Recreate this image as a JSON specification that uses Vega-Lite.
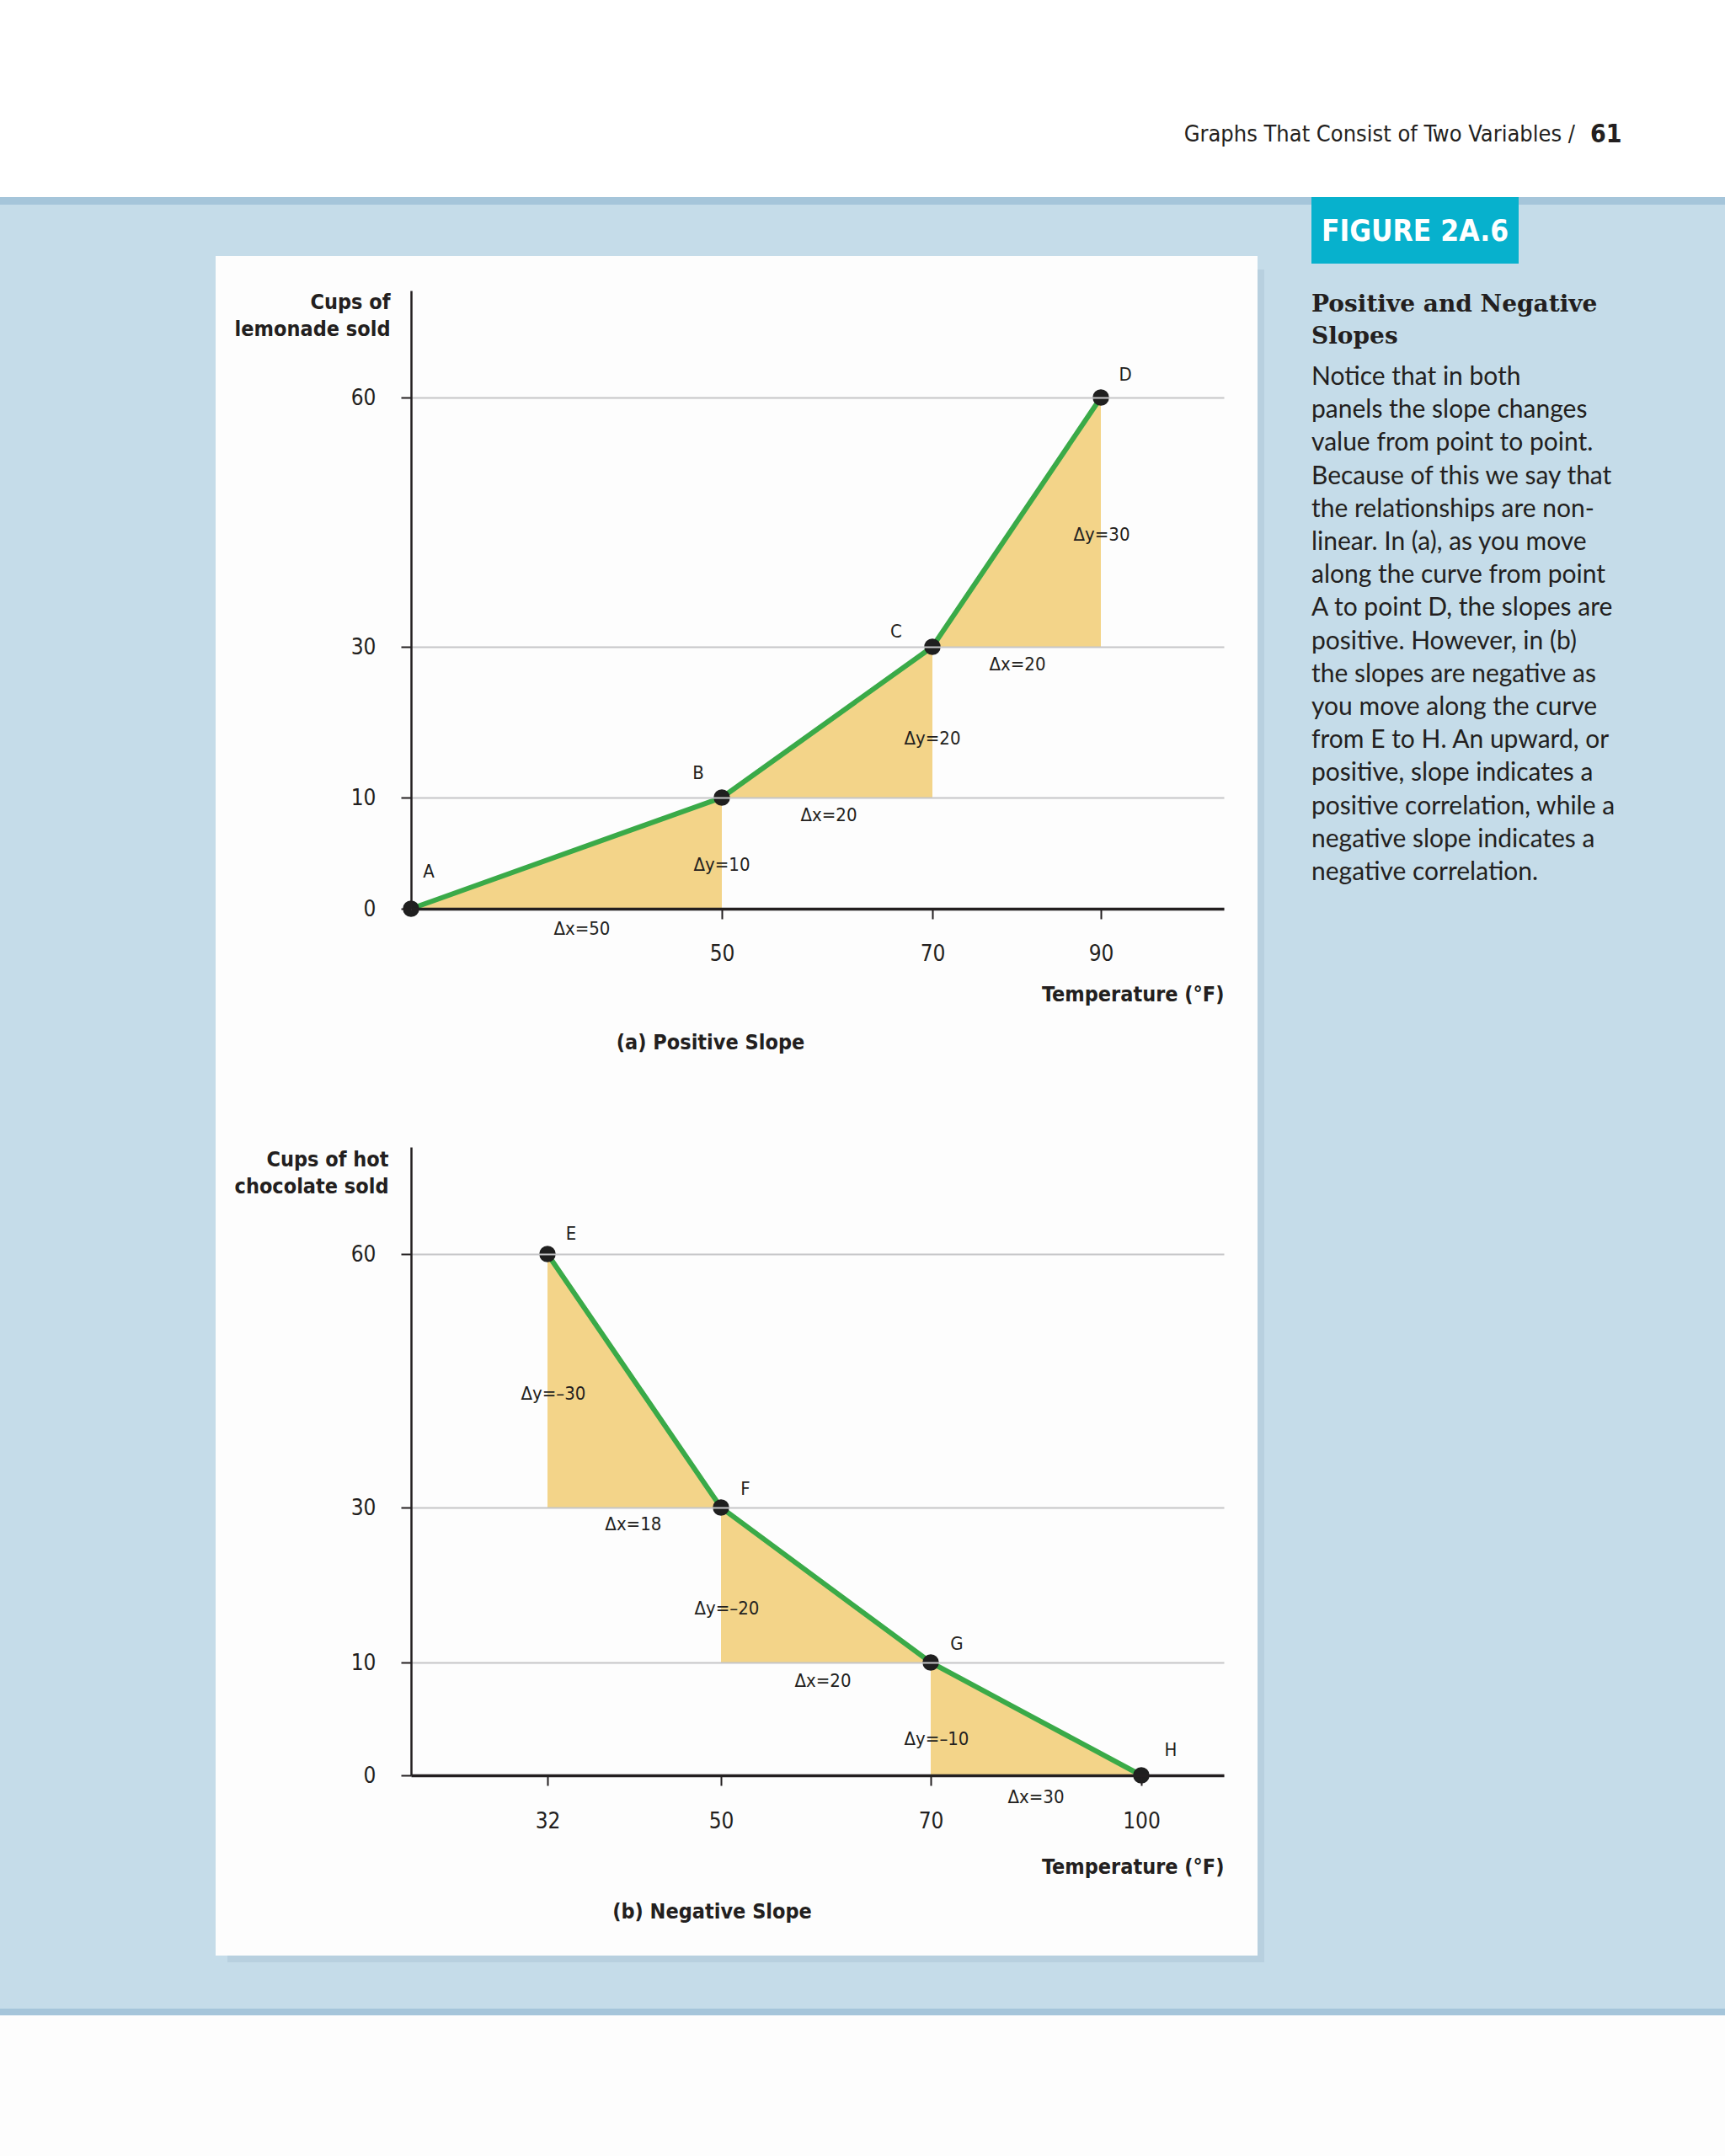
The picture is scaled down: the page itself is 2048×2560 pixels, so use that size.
{
  "$schema": "https://vega.github.io/schema/vega-lite/v6.json",
  "background": "#c5dce9",
  "padding": 0,
  "spacing": 0,
  "config": {
    "view": {"stroke": null},
    "concat": {"spacing": 0},
    "font": "Liberation Sans Narrow, DejaVu Sans Condensed, sans-serif",
    "axis": {
      "domainColor": "#231f20",
      "tickColor": "#231f20",
      "tickWidth": 2,
      "tickSize": 12,
      "labelColor": "#231f20",
      "labelFont": "Liberation Sans Narrow, DejaVu Sans Condensed, sans-serif",
      "labelFontSize": 26,
      "labelOverlap": false,
      "labelFlush": false,
      "titleColor": "#231f20",
      "titleFont": "Liberation Sans Narrow, DejaVu Sans Condensed, sans-serif",
      "titleFontSize": 25,
      "titleFontWeight": "bold",
      "gridColor": "#c6c6c8",
      "gridWidth": 2
    }
  },
  "datasets": {
    "curveA": [
      {"label": "A", "temp": 0, "cups": 0},
      {"label": "B", "temp": 50, "cups": 10},
      {"label": "C", "temp": 70, "cups": 30},
      {"label": "D", "temp": 90, "cups": 60}
    ],
    "triA": [
      {"seg": "AB", "temp": 0, "cups": 0, "base": 0},
      {"seg": "AB", "temp": 50, "cups": 10, "base": 0},
      {"seg": "BC", "temp": 50, "cups": 10, "base": 10},
      {"seg": "BC", "temp": 70, "cups": 30, "base": 10},
      {"seg": "CD", "temp": 70, "cups": 30, "base": 30},
      {"seg": "CD", "temp": 90, "cups": 60, "base": 30}
    ],
    "annA": [
      {"text": "A", "temp": 2.85, "cups": 3.33},
      {"text": "B", "temp": 46.2, "cups": 13.24},
      {"text": "C", "temp": 66.56, "cups": 31.82},
      {"text": "D", "temp": 92.9, "cups": 62.74},
      {"text": "Δx=50", "temp": 27.5, "cups": -1.82},
      {"text": "Δy=10", "temp": 50, "cups": 3.94},
      {"text": "Δx=20", "temp": 60.16, "cups": 8.41},
      {"text": "Δy=20", "temp": 70, "cups": 17.82},
      {"text": "Δx=20", "temp": 80.1, "cups": 27.65},
      {"text": "Δy=30", "temp": 90.1, "cups": 43.5}
    ],
    "curveB": [
      {"label": "E", "temp": 32, "cups": 60},
      {"label": "F", "temp": 50, "cups": 30},
      {"label": "G", "temp": 70, "cups": 10},
      {"label": "H", "temp": 100, "cups": 0}
    ],
    "triB": [
      {"seg": "EF", "temp": 32, "cups": 60, "base": 30},
      {"seg": "EF", "temp": 50, "cups": 30, "base": 30},
      {"seg": "FG", "temp": 50, "cups": 30, "base": 10},
      {"seg": "FG", "temp": 70, "cups": 10, "base": 10},
      {"seg": "GH", "temp": 70, "cups": 10, "base": 0},
      {"seg": "GH", "temp": 100, "cups": 0, "base": 0}
    ],
    "annB": [
      {"text": "E", "temp": 34.45, "cups": 62.39},
      {"text": "F", "temp": 52.33, "cups": 32.19},
      {"text": "G", "temp": 73.72, "cups": 12.39},
      {"text": "H", "temp": 104.2, "cups": 2.24},
      {"text": "Δy=–30", "temp": 32.6, "cups": 43.46},
      {"text": "Δx=18", "temp": 40.9, "cups": 27.83},
      {"text": "Δy=–20", "temp": 50.56, "cups": 16.96},
      {"text": "Δx=20", "temp": 59.72, "cups": 8.36},
      {"text": "Δy=–10", "temp": 70.84, "cups": 3.21},
      {"text": "Δx=30", "temp": 85.0, "cups": -1.94}
    ]
  },
  "vconcat": [
    {
      "spacing": 0,
      "hconcat": [
        {
          "width": 1876, "height": 234,
          "view": {"fill": "#ffffff", "stroke": null},
          "data": {"values": []},
          "mark": "point",
          "title": {"text": "Graphs That Consist of Two Variables   /", "orient": "bottom", "anchor": "end", "frame": "group", "offset": -74, "dx": -6, "baseline": "middle", "font": "Liberation Sans Narrow, DejaVu Sans Condensed, sans-serif", "fontSize": 27, "fontWeight": "normal", "color": "#231f20"}
        },
        {
          "width": 172, "height": 234,
          "view": {"fill": "#ffffff", "stroke": null},
          "data": {"values": []},
          "mark": "point",
          "title": {"text": "61", "orient": "bottom", "anchor": "start", "frame": "group", "offset": -74, "dx": 12, "baseline": "middle", "font": "Liberation Sans Narrow, DejaVu Sans Condensed, sans-serif", "fontSize": 30, "fontWeight": "bold", "color": "#231f20"}
        }
      ]
    },
    {
      "spacing": 0,
      "hconcat": [
        {"width": 1557, "height": 9, "view": {"fill": "#a5c5da", "stroke": null}, "data": {"values": []}, "mark": "point"},
        {"width": 246, "height": 9, "view": {"fill": "#07b1cd", "stroke": null}, "data": {"values": []}, "mark": "point"},
        {"width": 245, "height": 9, "view": {"fill": "#a5c5da", "stroke": null}, "data": {"values": []}, "mark": "point"}
      ]
    },
    {
      "spacing": 0,
      "hconcat": [
        {"width": 256, "height": 2142, "data": {"values": []}, "mark": "point"},
        {
          "spacing": 0,
          "vconcat": [
            {"width": 1237, "height": 61, "data": {"values": []}, "mark": "point"},
            {
              "width": 1237, "height": 996,
              "view": {"fill": "#fdfdfd", "stroke": null},
              "title": {"text": "(a) Positive Slope", "orient": "bottom", "anchor": "middle", "frame": "group", "offset": -62, "dx": -31, "baseline": "middle", "font": "Liberation Sans Narrow, DejaVu Sans Condensed, sans-serif", "fontSize": 25, "fontWeight": "bold", "color": "#231f20"},
              "encoding": {
                "x": {
                  "field": "temp", "type": "quantitative",
                  "scale": {"domain": [0, 50, 70, 90, 104.6], "range": [232, 601, 851, 1051, 1197], "nice": false, "zero": false},
                  "axis": {"values": [50, 70, 90], "orient": "bottom", "offset": -221, "grid": false, "zindex": 2, "domainWidth": 3.5, "labelPadding": 28, "title": "Temperature (°F)", "titleX": 1197, "titleY": 101, "titleAlign": "right", "titleBaseline": "middle", "titleAngle": 0}
                },
                "y": {
                  "field": "cups", "type": "quantitative",
                  "scale": {"domain": [0, 10, 30, 60, 72.9], "range": [775, 643, 464, 168, 41], "nice": false, "zero": false},
                  "axis": {"values": [0, 10, 30, 60], "orient": "left", "offset": -232, "grid": true, "zindex": 2, "domainWidth": 2.5, "labelPadding": 30, "title": ["Cups of", "lemonade sold"], "titleAngle": 0, "titleX": -25, "titleY": 42, "titleAlign": "right", "titleBaseline": "top", "titleLineHeight": 32}
                }
              },
              "layer": [
                {"data": {"name": "triA"}, "mark": {"type": "area", "color": "#f3d489", "opacity": 1}, "encoding": {"y2": {"field": "base"}, "detail": {"field": "seg"}}},
                {"data": {"name": "curveA"}, "mark": {"type": "line", "color": "#3aaa48", "strokeWidth": 6}},
                {"data": {"name": "curveA"}, "mark": {"type": "circle", "size": 380, "color": "#1f1f1f", "opacity": 1}},
                {"data": {"name": "annA"}, "mark": {"type": "text", "fontSize": 22, "align": "center", "baseline": "middle", "color": "#231f20"}, "encoding": {"text": {"field": "text"}}}
              ]
            },
            {
              "width": 1237, "height": 1022,
              "view": {"fill": "#fdfdfd", "stroke": null},
              "title": {"text": "(b) Negative Slope", "orient": "bottom", "anchor": "middle", "frame": "group", "offset": -52, "dx": -29, "baseline": "middle", "font": "Liberation Sans Narrow, DejaVu Sans Condensed, sans-serif", "fontSize": 25, "fontWeight": "bold", "color": "#231f20"},
              "encoding": {
                "x": {
                  "field": "temp", "type": "quantitative",
                  "scale": {"domain": [17.8, 32, 50, 70, 100, 111.8], "range": [232, 394, 600, 849, 1099, 1197], "nice": false, "zero": false},
                  "axis": {"values": [32, 50, 70, 100], "orient": "bottom", "offset": -214, "grid": false, "zindex": 2, "domainWidth": 3.5, "labelPadding": 29, "title": "Temperature (°F)", "titleX": 1197, "titleY": 108, "titleAlign": "right", "titleBaseline": "middle", "titleAngle": 0}
                },
                "y": {
                  "field": "cups", "type": "quantitative",
                  "scale": {"domain": [0, 10, 30, 60, 72.7], "range": [808, 674, 490, 189, 62], "nice": false, "zero": false},
                  "axis": {"values": [0, 10, 30, 60], "orient": "left", "offset": -232, "grid": true, "zindex": 2, "domainWidth": 2.5, "labelPadding": 30, "title": ["Cups of hot", "chocolate sold"], "titleAngle": 0, "titleX": -27, "titleY": 64, "titleAlign": "right", "titleBaseline": "top", "titleLineHeight": 32}
                }
              },
              "layer": [
                {"data": {"name": "triB"}, "mark": {"type": "area", "color": "#f3d489", "opacity": 1}, "encoding": {"y2": {"field": "base"}, "detail": {"field": "seg"}}},
                {"data": {"name": "curveB"}, "mark": {"type": "line", "color": "#3aaa48", "strokeWidth": 6}},
                {"data": {"name": "curveB"}, "mark": {"type": "circle", "size": 380, "color": "#1f1f1f", "opacity": 1}},
                {"data": {"name": "annB"}, "mark": {"type": "text", "fontSize": 22, "align": "center", "baseline": "middle", "color": "#231f20"}, "encoding": {"text": {"field": "text"}}}
              ]
            },
            {
              "spacing": 0,
              "vconcat": [
                {
                  "spacing": 0,
                  "hconcat": [
                    {"width": 14, "height": 8, "data": {"values": []}, "mark": "point"},
                    {"width": 1223, "height": 8, "view": {"fill": "#b8d0df", "stroke": null}, "data": {"values": []}, "mark": "point"}
                  ]
                },
                {"width": 1237, "height": 55, "data": {"values": []}, "mark": "point"}
              ]
            }
          ]
        },
        {
          "spacing": 0,
          "vconcat": [
            {"width": 64, "height": 77, "data": {"values": []}, "mark": "point"},
            {
              "spacing": 0,
              "hconcat": [
                {"width": 8, "height": 2010, "view": {"fill": "#b8d0df", "stroke": null}, "data": {"values": []}, "mark": "point"},
                {"width": 56, "height": 2010, "data": {"values": []}, "mark": "point"}
              ]
            },
            {"width": 64, "height": 55, "data": {"values": []}, "mark": "point"}
          ]
        },
        {
          "spacing": 0,
          "vconcat": [
            {
              "width": 246, "height": 70,
              "view": {"fill": "#07b1cd", "stroke": null},
              "data": {"values": []},
              "mark": "point",
              "title": {"text": "FIGURE 2A.6", "orient": "bottom", "anchor": "middle", "frame": "group", "offset": -38, "baseline": "middle", "font": "Liberation Sans Narrow, DejaVu Sans Condensed, sans-serif", "fontSize": 35, "fontWeight": "bold", "color": "#ffffff"}
            },
            {
              "width": 491, "height": 20,
              "data": {"values": []},
              "mark": "point",
              "title": {
                "text": ["Positive and Negative", "Slopes"],
                "subtitle": [
                  "Notice that in both",
                  "panels the slope changes",
                  "value from point to point.",
                  "Because of this we say that",
                  "the relationships are non-",
                  "linear. In (a), as you move",
                  "along the curve from point",
                  "A to point D, the slopes are",
                  "positive. However, in (b)",
                  "the slopes are negative as",
                  "you move along the curve",
                  "from E to H. An upward, or",
                  "positive, slope indicates a",
                  "positive correlation, while a",
                  "negative slope indicates a",
                  "negative correlation."
                ],
                "orient": "bottom", "anchor": "start", "frame": "group", "offset": 15, "baseline": "top",
                "font": "DejaVu Serif", "fontSize": 28, "fontWeight": "bold", "color": "#231f20", "lineHeight": 38,
                "subtitleFont": "Lato", "subtitleFontSize": 30, "subtitleFontWeight": "normal", "subtitleColor": "#231f20", "subtitleLineHeight": 39.2, "subtitlePadding": 19
              }
            }
          ]
        }
      ]
    },
    {"width": 2048, "height": 8, "view": {"fill": "#a5c5da", "stroke": null}, "data": {"values": []}, "mark": "point"},
    {"width": 2048, "height": 167, "view": {"fill": "#fdfdfd", "stroke": null}, "data": {"values": []}, "mark": "point"}
  ]
}
